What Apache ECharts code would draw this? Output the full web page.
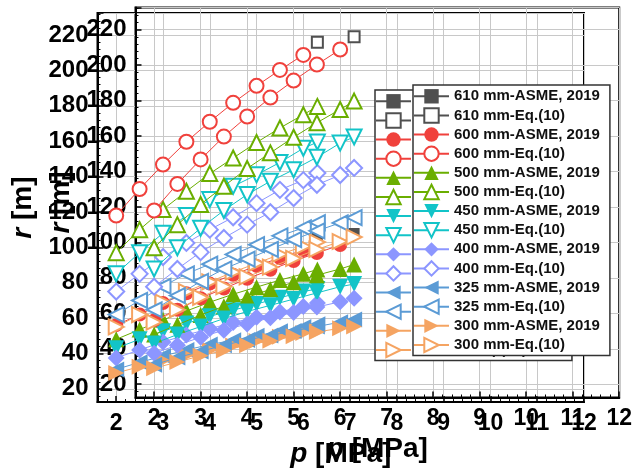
<!DOCTYPE html>
<html>
<head>
<meta charset="utf-8">
<script src="https://cdn.jsdelivr.net/npm/echarts@6/dist/echarts.min.js"></script>
<style>
  html, body { margin: 0; padding: 0; background: #fff; }
  #chart { width: 635px; height: 473px; }
</style>
</head>
<body>
<div id="chart"></div>
<script>
// Pressure steps [MPa]
const pressure = [2, 2.5, 3, 3.5, 4, 4.5, 5, 5.5, 6, 6.3];
const pressure600 = [2, 2.5, 3, 3.5, 4, 4.5, 5, 5.5, 6];
const pressure610 = [6.3];

// Bend radius r [m] per pipe diameter
const r610Asme = [105];
const r610Eq = [216];
const r600Asme = [56, 62, 68.5, 74, 79.5, 84.5, 89.5, 94, 98.5];
const r600Eq = [118, 133, 146.8, 159.7, 171, 181.7, 191.3, 200.3, 208.8];
const r500Asme = [48, 53.5, 59, 64, 69, 73.5, 77.5, 81.5, 85, 87.5];
const r500Eq = [97, 110, 121.4, 131.7, 141.7, 150.5, 159.3, 167.5, 175, 179.7];
const r450Asme = [43, 48, 52.5, 57, 61, 64.5, 68, 71.5, 75, 76.5];
const r450Eq = [85, 97, 108, 118, 127, 134.5, 141, 148, 156, 159.5];
const r400Asme = [37.5, 42, 46.5, 50.5, 54, 57.5, 60.5, 63.5, 66.5, 68.5];
const r400Eq = [75, 85, 94.5, 102.5, 110, 117, 125, 132.5, 138, 142];
const r325Asme = [31, 35, 38.5, 42, 45, 47.5, 50, 52.5, 55, 56.5];
const r325Eq = [62, 70, 78, 85, 90.5, 96, 101.5, 106.5, 111, 114];
const r300Asme = [29, 32.5, 36, 39, 42, 44.5, 47, 49.5, 51.5, 52.5];
const r300Eq = [55, 62, 69, 75, 80.5, 86, 91, 96, 100.5, 103];

const seriesNames = [
  '610 mm-ASME, 2019', '610 mm-Eq.(10)',
  '600 mm-ASME, 2019', '600 mm-Eq.(10)',
  '500 mm-ASME, 2019', '500 mm-Eq.(10)',
  '450 mm-ASME, 2019', '450 mm-Eq.(10)',
  '400 mm-ASME, 2019', '400 mm-Eq.(10)',
  '325 mm-ASME, 2019', '325 mm-Eq.(10)',
  '300 mm-ASME, 2019', '300 mm-Eq.(10)'
];

const FONT = '"Liberation Sans", Arial, sans-serif';

const styles = [
  { color: '#505050', symbol: 'rect', size: 11, rot: 0, filled: true, p: pressure610, r: r610Asme },
  { color: '#505050', symbol: 'rect', size: 11, rot: 0, filled: false, p: pressure610, r: r610Eq },
  { color: '#f0413c', symbol: 'circle', size: 14, rot: 0, filled: true, p: pressure600, r: r600Asme },
  { color: '#f0413c', symbol: 'circle', size: 14, rot: 0, filled: false, p: pressure600, r: r600Eq },
  { color: '#6aae00', symbol: 'triangle', size: 16, rot: 0, filled: true, p: pressure, r: r500Asme },
  { color: '#6aae00', symbol: 'triangle', size: 15, rot: 0, filled: false, p: pressure, r: r500Eq },
  { color: '#12c4c8', symbol: 'triangle', size: 16, rot: 180, filled: true, p: pressure, r: r450Asme },
  { color: '#12c4c8', symbol: 'triangle', size: 15, rot: 180, filled: false, p: pressure, r: r450Eq },
  { color: '#8c96ff', symbol: 'diamond', size: 17, rot: 0, filled: true, p: pressure, r: r400Asme },
  { color: '#8c96ff', symbol: 'diamond', size: 16, rot: 0, filled: false, p: pressure, r: r400Eq },
  { color: '#5b9bd5', symbol: 'triangle', size: 16, rot: 90, filled: true, p: pressure, r: r325Asme },
  { color: '#5b9bd5', symbol: 'triangle', size: 15, rot: 90, filled: false, p: pressure, r: r325Eq },
  { color: '#f5a462', symbol: 'triangle', size: 16, rot: -90, filled: true, p: pressure, r: r300Asme },
  { color: '#f5a462', symbol: 'triangle', size: 15, rot: -90, filled: false, p: pressure, r: r300Eq }
];

// Two superimposed copies of the same plot, offset from each other
const grids = [
  { left: 97.5, top: 13, width: 486.5, height: 390 },
  { left: 135.5, top: 7.5, width: 486.5, height: 390 }
];

function xAxisFor(gi) {
  return {
    type: 'value', gridIndex: gi, min: 1.6, max: 12, splitNumber: 10,
    axisLine: { show: true, onZero: false, lineStyle: { color: '#000', width: 2 } },
    axisTick: { show: true, inside: true, length: 6, lineStyle: { color: '#000', width: 1.5 } },
    minorTick: { show: true, splitNumber: 5, length: 3, lineStyle: { color: '#000', width: 1 } },
    axisLabel: { showMinLabel: false, fontSize: 23, fontWeight: 'bold', fontFamily: FONT, color: '#000', margin: 10 },
    splitLine: { show: true, lineStyle: { color: '#c8c8c8', width: 1 } },
    name: '{i|p} [MPa]', nameLocation: 'middle', nameGap: 35,
    nameTextStyle: {
      fontSize: 28, fontWeight: 'bold', fontFamily: FONT, color: '#000',
      rich: { i: { fontSize: 28, fontWeight: 'bold', fontStyle: 'italic', fontFamily: FONT, color: '#000' } }
    }
  };
}

function yAxisFor(gi) {
  return {
    type: 'value', gridIndex: gi, min: 12.5, max: 232.5, splitNumber: 11,
    axisLine: { show: true, onZero: false, lineStyle: { color: '#000', width: 2 } },
    axisTick: { show: true, inside: true, length: 6, lineStyle: { color: '#000', width: 1.5 } },
    minorTick: { show: true, splitNumber: 5, length: 3, lineStyle: { color: '#000', width: 1 } },
    axisLabel: { showMinLabel: false, showMaxLabel: false, fontSize: 24, fontWeight: 'bold', fontFamily: FONT, color: '#000', margin: 9 },
    splitLine: { show: true, lineStyle: { color: '#c8c8c8', width: 1 } },
    name: '{i|r} [m]', nameLocation: 'middle', nameGap: 52, nameRotate: 90,
    nameTextStyle: {
      fontSize: 28, fontWeight: 'bold', fontFamily: FONT, color: '#000',
      rich: { i: { fontSize: 28, fontWeight: 'bold', fontStyle: 'italic', fontFamily: FONT, color: '#000' } }
    }
  };
}

const series = [];
[0, 1].forEach(function (gi) {
  styles.forEach(function (s, k) {
    series.push({
      name: seriesNames[k],
      type: 'line',
      xAxisIndex: gi, yAxisIndex: gi,
      z: 2 + gi,
      data: s.p.map(function (p, i) { return [p, s.r[i]]; }),
      symbol: s.symbol,
      symbolSize: s.size,
      symbolRotate: s.rot,
      showAllSymbol: true,
      lineStyle: { color: s.color, width: 1 },
      itemStyle: s.filled
        ? { color: s.color, borderColor: s.color, borderWidth: 0 }
        : { color: '#fff', borderColor: s.color, borderWidth: 2 },
      emphasis: { disabled: true },
      animation: false
    });
  });
});

function legendFor(left, top, z) {
  return {
    data: seriesNames, orient: 'vertical', left: left, top: top, z: z,
    backgroundColor: '#fff', borderColor: '#333', borderWidth: 1.5,
    padding: [3.8, 10, 2.4, 0], itemWidth: 35, itemHeight: 18, itemGap: 3.43,
    selectedMode: false,
    textStyle: { fontSize: 15, fontWeight: 'bold', fontFamily: FONT, color: '#111', lineHeight: 15 }
  };
}

const chart = echarts.init(document.getElementById('chart'), null, { renderer: 'canvas' });
chart.setOption({
  animation: false,
  backgroundColor: '#fff',
  grid: grids.map(function (g) {
    return Object.assign({ show: true, borderColor: '#000', borderWidth: 2, backgroundColor: 'transparent' }, g);
  }),
  xAxis: [xAxisFor(0), xAxisFor(1)],
  yAxis: [yAxisFor(0), yAxisFor(1)],
  legend: [legendFor(375, 90, 10), legendFor(413, 85, 11)],
  series: series
});
</script>
</body>
</html>
